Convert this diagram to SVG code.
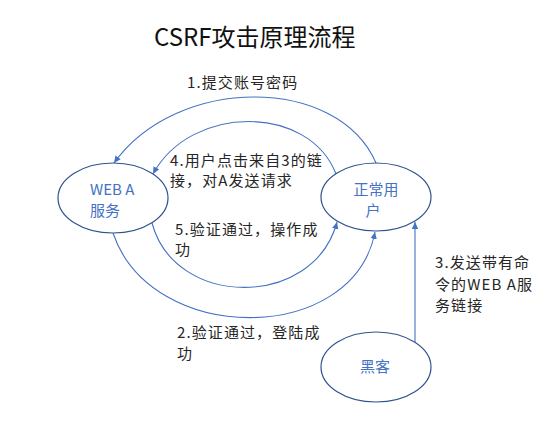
<svg xmlns="http://www.w3.org/2000/svg" width="557" height="431" viewBox="0 0 557 431">
<style>
  .node { fill: #ffffff; stroke: #2F528F; stroke-width: 1.2; }
  .ntext { font-family: "Noto Sans CJK SC", "Noto Sans", sans-serif; font-size: 15px; fill: #4472C4; }
  .label { font-family: "Noto Sans CJK SC", "Noto Sans", sans-serif; font-size: 15px; letter-spacing: 1.1px; fill: #262626; }
  .title { font-family: "Noto Sans CJK SC", "Noto Sans", sans-serif; font-size: 24px; fill: #111111; }
  .conn { fill: none; stroke: #4472C4; stroke-width: 1.1; marker-end: url(#arr); }
</style>
<defs>
  <marker id="arr" markerUnits="userSpaceOnUse" markerWidth="8" markerHeight="8" viewBox="0 0 8 8" refX="7" refY="4" orient="auto">
    <path d="M0,0.8 L7,4 L0,7.2 Z" fill="#4472C4"/>
  </marker>
</defs>
<rect width="557" height="431" fill="#ffffff"/>
<text class="title" x="154" y="46">CSRF攻击原理流程</text>

<g id="connectors">
  <path id="c1" class="conn" d="M376,163 C338,75 177,75 114,163"/>
  <path id="c4" class="conn" d="M336,174 C309,104 191,104 153,174"/>
  <path id="c5" class="conn" d="M152,223 C175,309 314,309 337,222"/>
  <path id="c2" class="conn" d="M113,233 C151,346 353,346 375,232"/>
  <path id="c3" class="conn" d="M415,342 L415,222"/>
</g>

<g id="webA">
  <ellipse class="node" cx="113" cy="198" rx="55" ry="35"/>
  <text class="ntext" x="90" y="195">WEB A</text>
  <text class="ntext" x="90" y="216">服务</text>
</g>
<g id="user">
  <ellipse class="node" cx="376" cy="197" rx="55" ry="34"/>
  <text class="ntext" x="376" y="195" text-anchor="middle">正常用</text>
  <text class="ntext" x="373" y="216" text-anchor="middle">户</text>
</g>
<g id="hacker">
  <ellipse class="node" cx="376" cy="367" rx="55" ry="35"/>
  <text class="ntext" x="375" y="372" text-anchor="middle">黑客</text>
</g>

<g id="labels">
  <text class="label" x="187" y="88">1.提交账号密码</text>
  <text class="label" x="170" y="166">4.用户点击来自3的链</text>
  <text class="label" x="170" y="186">接，对A发送请求</text>
  <text class="label" x="175" y="235">5.验证通过，操作成</text>
  <text class="label" x="175" y="255">功</text>
  <text class="label" x="177" y="338">2.验证通过，登陆成</text>
  <text class="label" x="177" y="359">功</text>
  <text class="label" x="435" y="268">3.发送带有命</text>
  <text class="label" x="435" y="290">令的WEB A服</text>
  <text class="label" x="435" y="311">务链接</text>
</g>
</svg>
